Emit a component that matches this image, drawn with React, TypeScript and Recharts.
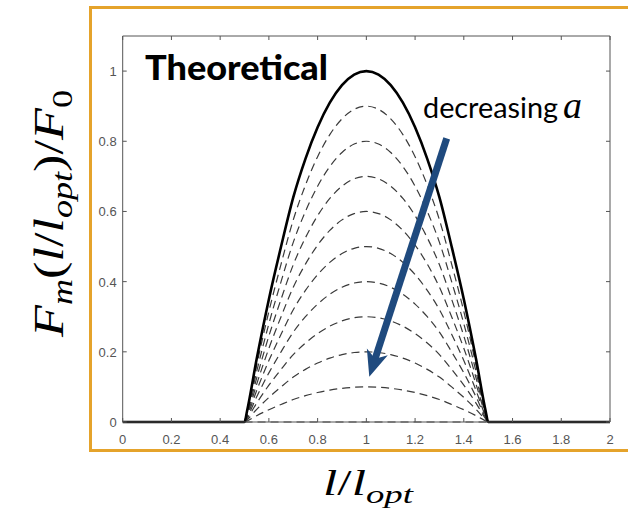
import React from 'react'
import { LineChart, Line, XAxis, YAxis } from 'recharts'

// sample lengths l/l_opt
const lengths = [0, 0.5, 0.51, 0.55, 0.6, 0.65, 0.7, 0.75, 0.8, 0.85, 0.9, 0.95, 1, 1.05, 1.1, 1.15, 1.2, 1.25, 1.3, 1.35, 1.4, 1.45, 1.49, 1.5, 2]

// full activation (solid)
const fullActivation = [0, 0, 0.03, 0.18, 0.35, 0.5, 0.64, 0.75, 0.84, 0.91, 0.96, 0.99, 1, 0.99, 0.96, 0.91, 0.84, 0.75, 0.64, 0.5, 0.35, 0.18, 0.03, 0, 0]

// decreasing activation a (dashed)
const a90 = [null, 0, 0.027, 0.162, 0.315, 0.45, 0.576, 0.675, 0.756, 0.819, 0.864, 0.891, 0.9, 0.891, 0.864, 0.819, 0.756, 0.675, 0.576, 0.45, 0.315, 0.162, 0.027, 0, null]
const a80 = [null, 0, 0.024, 0.144, 0.28, 0.4, 0.512, 0.6, 0.672, 0.728, 0.768, 0.792, 0.8, 0.792, 0.768, 0.728, 0.672, 0.6, 0.512, 0.4, 0.28, 0.144, 0.024, 0, null]
const a70 = [null, 0, 0.021, 0.126, 0.245, 0.35, 0.448, 0.525, 0.588, 0.637, 0.672, 0.693, 0.7, 0.693, 0.672, 0.637, 0.588, 0.525, 0.448, 0.35, 0.245, 0.126, 0.021, 0, null]
const a60 = [null, 0, 0.018, 0.108, 0.21, 0.3, 0.384, 0.45, 0.504, 0.546, 0.576, 0.594, 0.6, 0.594, 0.576, 0.546, 0.504, 0.45, 0.384, 0.3, 0.21, 0.108, 0.018, 0, null]
const a50 = [null, 0, 0.015, 0.09, 0.175, 0.25, 0.32, 0.375, 0.42, 0.455, 0.48, 0.495, 0.5, 0.495, 0.48, 0.455, 0.42, 0.375, 0.32, 0.25, 0.175, 0.09, 0.015, 0, null]
const a40 = [null, 0, 0.012, 0.072, 0.14, 0.2, 0.256, 0.3, 0.336, 0.364, 0.384, 0.396, 0.4, 0.396, 0.384, 0.364, 0.336, 0.3, 0.256, 0.2, 0.14, 0.072, 0.012, 0, null]
const a30 = [null, 0, 0.009, 0.054, 0.105, 0.15, 0.192, 0.225, 0.252, 0.273, 0.288, 0.297, 0.3, 0.297, 0.288, 0.273, 0.252, 0.225, 0.192, 0.15, 0.105, 0.054, 0.009, 0, null]
const a20 = [null, 0, 0.006, 0.036, 0.07, 0.1, 0.128, 0.15, 0.168, 0.182, 0.192, 0.198, 0.2, 0.198, 0.192, 0.182, 0.168, 0.15, 0.128, 0.1, 0.07, 0.036, 0.006, 0, null]
const a10 = [null, 0, 0.003, 0.018, 0.035, 0.05, 0.064, 0.075, 0.084, 0.091, 0.096, 0.099, 0.1, 0.099, 0.096, 0.091, 0.084, 0.075, 0.064, 0.05, 0.035, 0.018, 0.003, 0, null]
const a00 = [null, 0, 0, 0, 0, 0, 0, 0, 0, 0, 0, 0, 0, 0, 0, 0, 0, 0, 0, 0, 0, 0, 0, 0, null]

const xTicks = [0, 0.2, 0.4, 0.6, 0.8, 1, 1.2, 1.4, 1.6, 1.8, 2]
const yTicks = [0, 0.2, 0.4, 0.6, 0.8, 1]

const dashedSeries: Array<[string, Array<number | null>]> = [
  ['a90', a90], ['a80', a80], ['a70', a70], ['a60', a60], ['a50', a50],
  ['a40', a40], ['a30', a30], ['a20', a20], ['a10', a10], ['a00', a00]
]

const data = lengths.map((l, i) => {
  const row: Record<string, number | null> = { l, full: fullActivation[i] }
  dashedSeries.forEach(([key, vals]) => { row[key] = vals[i] })
  return row
})

const axisColor = '#555'
const tickFont = 'Liberation Sans, Arial, sans-serif'
const noLabel = () => ''

const XTick = ({ x, y, payload }: any) => (
  <text x={x} y={y + 9.5} textAnchor="middle" fontFamily={tickFont} fontSize={13} fill="#555">
    {payload.value}
  </text>
)

const YTick = ({ x, y, payload }: any) => (
  <text x={x} y={y + 5} textAnchor="end" fontFamily={tickFont} fontSize={13} fill="#555">
    {payload.value}
  </text>
)

// arrow geometry (screen px)
const arrowStart = [446.7, 138.3]
const arrowTip = [369.3, 376.7]

const Arrow = () => {
  const dx = arrowTip[0] - arrowStart[0]
  const dy = arrowTip[1] - arrowStart[1]
  const len = Math.hypot(dx, dy)
  const ux = dx / len, uy = dy / len
  const nx = -uy, ny = ux
  const bx = arrowTip[0] - ux * 26, by = arrowTip[1] - uy * 26
  const notchX = arrowTip[0] - ux * 19, notchY = arrowTip[1] - uy * 19
  const head = [
    [arrowTip[0], arrowTip[1]],
    [bx + nx * 11, by + ny * 11],
    [notchX, notchY],
    [bx - nx * 11, by - ny * 11]
  ].map(p => p.join(',')).join(' ')
  return (
    <g>
      <line x1={arrowStart[0]} y1={arrowStart[1]} x2={notchX + ux * 2} y2={notchY + uy * 2}
        stroke="#1f4a7e" strokeWidth={7} />
      <polygon points={head} fill="#1f4a7e" />
    </g>
  )
}

export default function App() {
  return (
    <div style={{ position: 'absolute', left: 0, top: 0, width: 628, height: 509, overflow: 'hidden', background: '#fff' }}>
      <div style={{
        position: 'absolute', left: 88.5, top: 6, width: 600, height: 445.5,
        border: '3px solid #E5A32B', boxSizing: 'border-box'
      }} />
      <div style={{ position: 'absolute', left: 0, top: 0 }}>
        <LineChart width={628} height={509} data={data}
          margin={{ top: 35, right: 17, bottom: 57, left: 82.7 }}>
          <XAxis dataKey="l" type="number" domain={[0, 2]} ticks={xTicks} interval={0}
            height={30} tickSize={-4} tickMargin={16} stroke={axisColor} tick={<XTick />} />
          <XAxis xAxisId="top" dataKey="l" orientation="top" type="number" domain={[0, 2]} ticks={xTicks}
            interval={0} height={1} tickSize={-4} tickFormatter={noLabel} stroke={axisColor} />
          <YAxis type="number" domain={[0, 1.1]} ticks={yTicks} interval={0} width={40}
            tickSize={-4} tickMargin={10} stroke={axisColor} tick={<YTick />} />
          <YAxis yAxisId="right" orientation="right" type="number" domain={[0, 1.1]} ticks={yTicks}
            interval={0} width={1} tickSize={-4} tickFormatter={noLabel} stroke={axisColor} />
          {dashedSeries.map(([key]) => (
            <Line key={key} dataKey={key} type="monotone" stroke="#3a3a3a" strokeWidth={1.2}
              strokeDasharray="8 5" dot={false} activeDot={false} isAnimationActive={false} />
          ))}
          <Line dataKey="full" type="monotone" stroke="#000" strokeWidth={2.6}
            dot={false} activeDot={false} isAnimationActive={false} />
          <Line dataKey="full" xAxisId="top" yAxisId="right" type="monotone" stroke="none"
            dot={false} activeDot={false} isAnimationActive={false} />
        </LineChart>
      </div>
      <svg width={628} height={509} style={{ position: 'absolute', left: 0, top: 0, pointerEvents: 'none' }}>
        <text x={145} y={80} fontFamily="Lato, sans-serif" fontWeight={900} fontSize={35}
          textLength={183} lengthAdjust="spacingAndGlyphs" fill="#000">Theoretical</text>
        <text x={423} y={118} fontFamily="Lato, sans-serif" fontSize={28}
          textLength={135} lengthAdjust="spacingAndGlyphs" fill="#000">decreasing</text>
        <text x={563} y={118} fontFamily="Liberation Serif, serif" fontStyle="italic" fontSize={38}
          fill="#000">a</text>
        <Arrow />
        <text x={323} y={495} fontFamily="Liberation Serif, serif" fontSize={35} fill="#000"
          textLength={90} lengthAdjust="spacingAndGlyphs">
          <tspan fontStyle="italic">l</tspan>
          <tspan>/</tspan>
          <tspan fontStyle="italic">l</tspan>
          <tspan fontStyle="italic" fontSize={25} dy={8}>opt</tspan>
        </text>
        <text transform="rotate(-90)" x={-337} y={63} fontFamily="Liberation Serif, serif" fontSize={42}
          fill="#000" textLength={247} lengthAdjust="spacingAndGlyphs">
          <tspan fontStyle="italic">F</tspan>
          <tspan fontStyle="italic" fontSize={29} dy={9}>m</tspan>
          <tspan dy={-9}>(</tspan>
          <tspan fontStyle="italic">l</tspan>
          <tspan>/</tspan>
          <tspan fontStyle="italic">l</tspan>
          <tspan fontStyle="italic" fontSize={29} dy={9}>opt</tspan>
          <tspan dy={-9}>)/</tspan>
          <tspan fontStyle="italic">F</tspan>
          <tspan fontSize={29} dy={9}>0</tspan>
        </text>
      </svg>
    </div>
  )
}
